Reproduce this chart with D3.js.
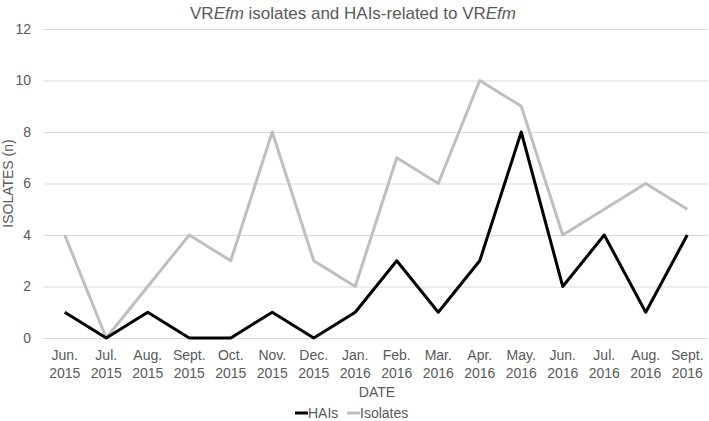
<!DOCTYPE html>
<html><head><meta charset="utf-8">
<script src="https://cdn.jsdelivr.net/npm/d3@7"></script>
<style>body{margin:0;background:#fff}svg{display:block;font-family:"Liberation Sans",Arial,sans-serif}</style>
</head><body><svg id="c" width="709" height="421"></svg>
<script>
const months = ["Jun.","Jul.","Aug.","Sept.","Oct.","Nov.","Dec.","Jan.","Feb.","Mar.","Apr.","May.","Jun.","Jul.","Aug.","Sept."];
const years = ["2015","2015","2015","2015","2015","2015","2015","2016","2016","2016","2016","2016","2016","2016","2016","2016"];
const hais = [1,0,1,0,0,1,0,1,3,1,3,8,2,4,1,4];
const isolates = [4,0,2,4,3,8,3,2,7,6,10,9,4,5,6,5];
const yTicks = [0,2,4,6,8,10,12];

const svg = d3.select("#c");
const m = {l:44, r:1, t:29, b:83};
const W = 709, H = 421;
const idx = d3.range(months.length);
const x = d3.scaleBand().domain(idx).range([m.l, W - m.r]);
const y = d3.scaleLinear().domain([0,12]).range([H - m.b, m.t]);
const txt = "#595959";
const ff = "Liberation Sans, Arial, sans-serif";

// gridlines
const yAxis = d3.axisLeft(y).tickValues(yTicks).tickSize(-(W - m.r - m.l)).tickPadding(13);
const gy = svg.append("g").attr("transform",`translate(${m.l},0)`).call(yAxis);
gy.select(".domain").remove();
gy.selectAll(".tick line").attr("stroke","#d9d9d9").attr("stroke-width",1);
gy.selectAll(".tick text").attr("fill",txt).attr("font-size",14).attr("font-family",ff);

// x axis labels
const xAxis = d3.axisBottom(x).tickSize(0).tickFormat(()=> "");
const gx = svg.append("g").attr("transform",`translate(0,${y(0)})`).call(xAxis);
gx.select(".domain").remove();
gx.selectAll(".tick").each(function(d){
  const t = d3.select(this).append("text").attr("fill",txt).attr("font-size",14).attr("text-anchor","middle")
    .attr("font-family",ff);
  t.append("tspan").attr("x",0).attr("y",22).text(months[d]);
  t.append("tspan").attr("x",0).attr("y",39.5).text(years[d]);
});

// lines
const line = arr => d3.line().x((d,i)=> x(i) + x.bandwidth()/2).y(d=> y(d))(arr);
svg.append("path").attr("d", line(isolates)).attr("fill","none").attr("stroke","#bfbfbf").attr("stroke-width",3).attr("stroke-linejoin","round");
svg.append("path").attr("d", line(hais)).attr("fill","none").attr("stroke","#000").attr("stroke-width",3).attr("stroke-linejoin","round");

// title
const title = svg.append("text").attr("x",353).attr("y",19).attr("text-anchor","middle").attr("font-size",17).attr("fill",txt);
title.append("tspan").text("VR");
title.append("tspan").attr("font-style","italic").text("Efm");
title.append("tspan").text(" isolates and HAIs-related to VR");
title.append("tspan").attr("font-style","italic").text("Efm");

// axis titles
svg.append("text").attr("x",(m.l + W - m.r)/2 + 1).attr("y",397).attr("text-anchor","middle").attr("font-size",14).attr("fill",txt).text("DATE");
svg.append("text").attr("transform",`translate(13,${(y(0)+y(12))/2}) rotate(-90)`).attr("text-anchor","middle").attr("font-size",14).attr("fill",txt).text("ISOLATES (n)");

// legend
const leg = [{n:"HAIs",c:"#000",x:295},{n:"Isolates",c:"#bfbfbf",x:347}];
const lg = svg.append("g");
leg.forEach(d=>{
  lg.append("line").attr("x1",d.x).attr("x2",d.x+13).attr("y1",413).attr("y2",413).attr("stroke",d.c).attr("stroke-width",3);
  lg.append("text").attr("x",d.x+13).attr("y",418).attr("font-size",14).attr("fill",txt).text(d.n);
});
</script></body></html>
